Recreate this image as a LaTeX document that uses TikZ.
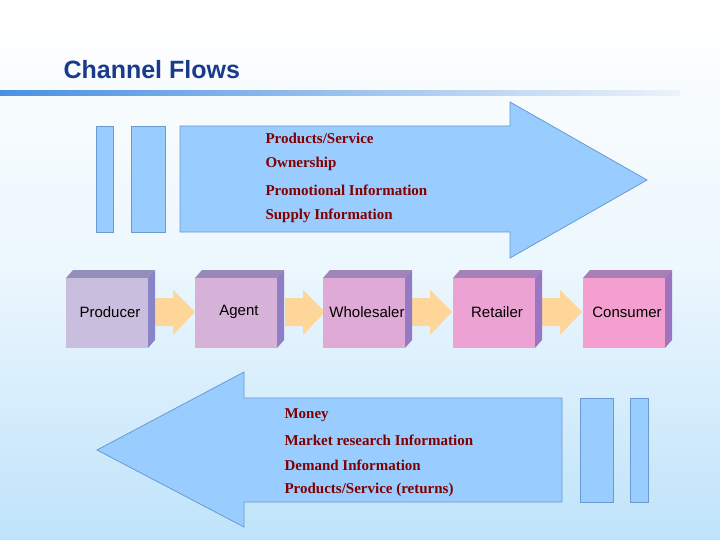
\documentclass[tikz,border=0pt]{standalone}
\usepackage{fontspec}
\setmainfont{Liberation Serif}
\newfontfamily\sansf{Liberation Sans}
\begin{document}
\begin{tikzpicture}[x=1pt,y=-1pt,
 blu/.style={fill=arrowblue,draw=arrowedge,line width=0.8pt},
 flow/.style={anchor=west,text=flowred,font=\bfseries\fontsize{15}{18}\selectfont},
 lbl/.style={font=\sansf\fontsize{15}{18}\selectfont,text=black},
 oarr/.style={fill=orangeA,draw=none}]
\definecolor{arrowblue}{HTML}{99CCFF}
\definecolor{arrowedge}{HTML}{6A9AD0}
\definecolor{flowred}{HTML}{800000}
\definecolor{orangeA}{HTML}{FFD699}
\definecolor{navy}{HTML}{1A3A8A}
\definecolor{bgb}{HTML}{BFE3FA}
\useasboundingbox (0,0) rectangle (720,540);
\shade[top color=white,bottom color=bgb,middle color=white!70!bgb] (0,0) rectangle (720,540);
\node[anchor=west,text=navy,font=\sansf\bfseries\fontsize{25}{30}\selectfont] (title) at (60,70) {Channel Flows};
\shade[left color=blue!55!cyan!70!black!40!white,right color=white,shading angle=90] (0,91) rectangle (680,96);
\shade[left color={rgb,255:red,74;green,144;blue,226},right color={rgb,255:red,236;green,242;blue,250}] (0,91) rectangle (680,96);
% top arrow
\draw[blu] (96,126) rectangle (113,232);
\draw[blu] (131,126) rectangle (165,232);
\draw[blu] (180,126) -- (510,126) -- (510,102) -- (647,180) -- (510,258) -- (510,232) -- (180,232) -- cycle;
\node[flow] (f1) at (262,138) {Products/Service};
\node[flow] (f2) at (262,164) {Ownership};
\node[flow] (f3) at (262,190) {Promotional Information};
\node[flow] (f4) at (262,216) {Supply Information};
% bottom arrow
\draw[blu] (562,398) -- (244,398) -- (244,372) -- (97,450) -- (244,527) -- (244,502) -- (562,502) -- cycle;
\draw[blu] (580,398) rectangle (613,502);
\draw[blu] (630,398) rectangle (648,502);
\node[flow] (g1) at (281,415) {Money};
\node[flow] (g2) at (281,440) {Market research Information};
\node[flow] (g3) at (281,465) {Demand Information};
\node[flow] (g4) at (281,490) {Products/Service (returns)};
% orange arrows
\foreach \x in {155,285,412,542}{
 \fill[orangeA] (\x,298) -- (\x+18,298) -- (\x+18,290) -- (\x+40,312) -- (\x+18,335) -- (\x+18,326) -- (\x,326) -- cycle;}
% boxes
\foreach \x/\c/\t/\n in {66/C9BEDD/Producer/p,195/D6B2D8/Agent/a,323/E0AAD6/Wholesaler/w,453/EDA2D4/Retailer/r,583/F49FCF/Consumer/c}{
 \definecolor{bc}{HTML}{\c}
 \fill[bc!80!blue!60!gray] (\x,278) -- (\x+7,270) -- (\x+89,270) -- (\x+82,278) -- cycle;
 \fill[bc!70!blue!70!gray] (\x+82,278) -- (\x+89,270) -- (\x+89,340) -- (\x+82,348) -- cycle;
 \fill[bc] (\x,278) rectangle (\x+82,348);
 \node[lbl] (\n) at (\x+44,312) {\t};}
\end{tikzpicture}
\end{document}
